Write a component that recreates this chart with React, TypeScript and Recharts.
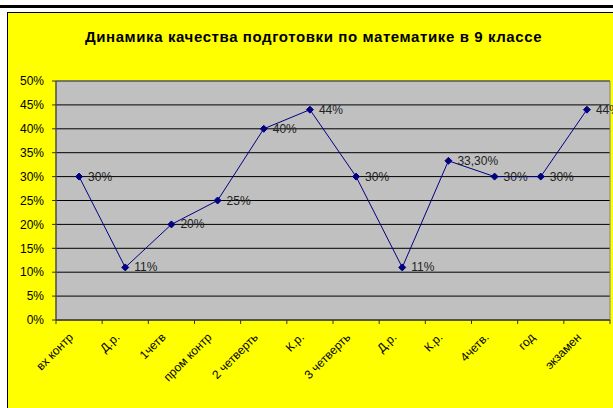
import React from 'react';
import {
  LineChart,
  Line,
  XAxis,
  YAxis,
  CartesianGrid,
  LabelList,
  ReferenceArea,
} from 'recharts';

const CATEGORIES = [
  'вх контр',
  'Д.р.',
  '1четв',
  'пром  контр',
  '2 четверть',
  'К.р.',
  '3 четверть',
  'Д.р. ',
  'К.р. ',
  '4четв.',
  'год',
  'экзамен',
];

const QUALITY = [0.3, 0.11, 0.2, 0.25, 0.4, 0.44, 0.3, 0.11, 0.333, 0.3, 0.3, 0.44];

const VALUE_LABELS = ['30%', '11%', '20%', '25%', '40%', '44%', '30%', '11%', '33,30%', '30%', '30%', '44%'];

const Y_TICKS = [0, 0.05, 0.1, 0.15, 0.2, 0.25, 0.3, 0.35, 0.4, 0.45, 0.5];

const TITLE = 'Динамика качества подготовки по математике в 9 классе';

const chartData = CATEGORIES.map((name, i) => ({
  name,
  value: QUALITY[i],
  label: VALUE_LABELS[i],
}));

const FONT = '"Liberation Sans", Arial, sans-serif';
const PLOT_LEFT = 56;
const PLOT_RIGHT = 610;
const STEP = (PLOT_RIGHT - PLOT_LEFT) / CATEGORIES.length;

// excel style: ticks sit between categories, labels turned 45 degrees
function CategoryTick(props: any) {
  const { x, y, payload, index } = props;
  const last = index === CATEGORIES.length - 1;
  const ax = x - 5;
  const ay = y + 18;
  return (
    <g>
      <line x1={x - STEP / 2} y1={y} x2={x - STEP / 2} y2={y + 4} stroke="#333" />
      {last && <line x1={x + STEP / 2} y1={y} x2={x + STEP / 2} y2={y + 4} stroke="#333" />}
      <text
        x={ax}
        y={ay}
        textAnchor="end"
        fontSize={12}
        fontFamily={FONT}
        fill="#000"
        transform={`rotate(-45 ${ax} ${ay})`}
      >
        {payload.value.trim()}
      </text>
    </g>
  );
}

function Diamond(props: any) {
  const { cx, cy } = props;
  if (cx == null || cy == null) return null;
  const r = 3.5;
  return (
    <path
      d={`M${cx},${cy - r}L${cx + r},${cy}L${cx},${cy + r}L${cx - r},${cy}Z`}
      fill="#000080"
      stroke="#000080"
    />
  );
}

function ValueLabel(props: any) {
  const { x, y, value } = props;
  return (
    <text x={x + 9} y={y + 4} fontSize={12} fontFamily={FONT} fill="#222">
      {value}
    </text>
  );
}

export default function App() {
  return (
    <div style={{ position: 'absolute', left: 0, top: 0, width: 613, height: 408, background: '#fff', overflow: 'hidden' }}>
      <div style={{ position: 'absolute', left: 0, top: 5, width: 613, height: 3, background: '#000' }} />
      <div
        style={{
          position: 'absolute',
          left: 7,
          top: 12,
          width: 620,
          height: 410,
          background: '#ffff00',
          borderLeft: '1px solid #000',
          borderTop: '1px solid #000',
        }}
      />
      <div
        style={{
          position: 'absolute',
          left: 0,
          top: 28,
          width: 627,
          textAlign: 'center',
          fontFamily: FONT,
          fontWeight: 'bold',
          fontSize: 15,
          letterSpacing: 0.6,
          color: '#000',
        }}
      >
        {TITLE}
      </div>
      <div style={{ position: 'absolute', left: 0, top: 0 }}>
        <LineChart
          width={613}
          height={408}
          data={chartData}
          margin={{ top: 81, right: 613 - PLOT_RIGHT, bottom: 0, left: 0 }}
        >
          <CartesianGrid vertical={false} stroke="#000" fill="#c0c0c0" fillOpacity={1} />
          <ReferenceArea y1={0} y2={0.5} fill="none" stroke="#808080" ifOverflow="visible" />
          <XAxis
            dataKey="name"
            scale="band"
            interval={0}
            height={88}
            tickLine={false}
            tickSize={0}
            tickMargin={0}
            axisLine={{ stroke: '#333' }}
            tick={<CategoryTick />}
          />
          <YAxis
            width={PLOT_LEFT}
            domain={[0, 0.5]}
            ticks={Y_TICKS}
            interval={0}
            tickSize={4}
            tickMargin={8}
            axisLine={{ stroke: '#333' }}
            tickLine={{ stroke: '#333' }}
            tickFormatter={(v: number) => `${Math.round(v * 100)}%`}
            tick={{ fontSize: 12, fontFamily: FONT, fill: '#000' }}
          />
          <Line
            type="linear"
            dataKey="value"
            stroke="#000080"
            strokeWidth={1}
            dot={<Diamond />}
            activeDot={false}
            isAnimationActive={false}
          >
            <LabelList dataKey="label" content={<ValueLabel />} />
          </Line>
        </LineChart>
      </div>
    </div>
  );
}
